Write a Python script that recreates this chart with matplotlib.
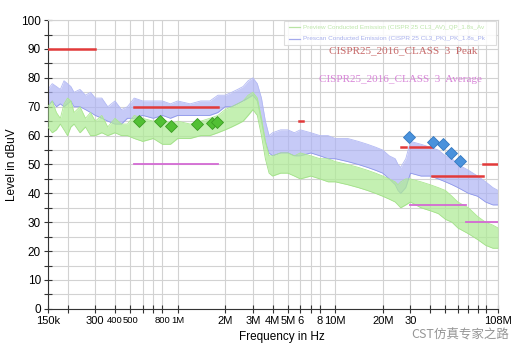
import matplotlib
matplotlib.use("Agg")
import matplotlib.pyplot as plt
import matplotlib.transforms as mtransforms
import numpy as np
from matplotlib.patches import Rectangle

plt.rcParams['font.family'] = ['Liberation Sans', 'DejaVu Sans']

# --- data (frequency in MHz, level in dBuV) ---
freq = [0.15, 0.16, 0.17, 0.18, 0.19, 0.20, 0.21, 0.22, 0.24, 0.26, 0.28, 0.30,
        0.33, 0.36, 0.40, 0.44, 0.48, 0.53, 0.6, 0.7, 0.8, 0.9, 1.0, 1.2, 1.4,
        1.6, 1.8, 2.0, 2.2, 2.4, 2.6, 2.8, 3.0, 3.2, 3.4, 3.6, 3.8, 4.0, 4.5,
        5.0, 5.5, 6.0, 7, 8, 9, 10, 12, 14, 16, 18, 20, 22, 24, 25, 26, 28, 30,
        35, 40, 45, 50, 55, 60, 70, 80, 90, 100, 108]

peak_hi = [76, 78, 77, 76, 79, 78, 77, 75, 76, 74, 75, 73,
           73, 70, 72, 69, 70, 73, 72, 72, 72, 71, 72, 71, 72,
           72, 74, 74, 75, 76, 77, 79, 80, 78, 73, 65, 60, 61, 62,
           62, 61, 62, 61, 60, 60, 59, 59, 58, 57, 56, 55, 53, 52, 50, 49, 52, 58,
           57, 56, 55, 53, 52, 50, 48, 46, 44, 42, 41]
peak_lo = [70, 72, 70, 71, 70, 71, 72, 70, 70, 69, 68, 67,
           66, 65, 64, 64, 66, 66, 67, 66, 67, 66, 67, 67, 67,
           67, 68, 70, 70, 71, 72, 73, 74, 72, 65, 58, 54, 53, 54,
           54, 53, 53, 54, 53, 52, 52, 51, 50, 49, 48, 47, 45, 43, 41, 40, 42, 47,
           46, 46, 45, 44, 43, 42, 40, 39, 37, 36, 36]

avg_hi = [70, 72, 68, 66, 71, 73, 72, 68, 70, 66, 68, 65,
          67, 63, 66, 64, 64, 67, 66, 65, 66, 64, 65, 64, 65,
          66, 67, 69, 70, 71, 72, 74, 75, 73, 66, 58, 53, 53, 54,
          54, 53, 54, 53, 52, 52, 51, 50, 49, 48, 47, 46, 45, 44, 43, 44, 45, 45,
          44, 43, 42, 41, 39, 37, 35, 32, 30, 29, 28]
avg_lo = [63, 61, 62, 64, 62, 60, 63, 64, 61, 63, 60, 60,
          61, 60, 61, 60, 60, 59, 58, 59, 57, 57, 59, 59, 60,
          60, 61, 62, 63, 64, 65, 67, 69, 67, 60, 52, 47, 46, 47,
          47, 46, 45, 46, 45, 44, 44, 43, 42, 41, 40, 39, 38, 37, 36, 35, 36, 37,
          35, 34, 33, 31, 30, 28, 26, 24, 22, 21, 21]

# CISPR 25 class 3 limit segments (start MHz, stop MHz, level)
peak_limits = [(0.15, 0.30, 90), (0.53, 1.8, 70), (5.9, 6.2, 65),
               (26, 28, 56), (30, 41, 56), (41, 87, 46), (87, 108, 50)]
avg_limits = [(0.53, 1.8, 50), (30, 68, 36), (68, 108, 30)]

# final measurement markers
avg_mark_f = [0.566, 0.767, 0.905, 1.33, 1.64, 1.78]
avg_mark_v = [65.2, 65.0, 63.4, 64.0, 64.4, 64.8]
peak_mark_f = [29.5, 41.5, 48, 54.5, 62]
peak_mark_v = [59.5, 57.7, 57.1, 54.0, 51.3]

tick_f = [0.15, 0.2, 0.3, 0.4, 0.5, 0.6, 0.7, 0.8, 1, 2, 3, 4, 5, 6, 7, 8, 10,
          20, 30, 40, 50, 60, 70, 80, 90, 108]
tick_lab = ['150k', '', '300', '400', '500', '', '', '800', '1M', '2M', '3M',
            '4M', '5M', '6', '', '8', '10M', '20M', '30', '', '', '', '', '',
            '', '108M']
# crowded labels: shrink and nudge (pixels)
crowded = {'400': -2.5, '500': 2.5, '800': -2.5, '1M': 2.5}

fig = plt.figure(figsize=(5.2, 3.53), dpi=100)
ax = fig.add_axes([0.092, 0.125, 0.866, 0.818])

ax.fill_between(freq, peak_lo, peak_hi, color='#aeb4f4', alpha=0.7, lw=0, zorder=2)
ax.plot(freq, peak_hi, color='#b4baf4', lw=0.6, zorder=2)
ax.plot(freq, peak_lo, color='#8e97ea', lw=0.6, zorder=2)
ax.fill_between(freq, avg_lo, avg_hi, color='#b0eb98', lw=0, alpha=0.75, zorder=3)
ax.plot(freq, avg_hi, color='#ace890', lw=0.6, zorder=3)
ax.plot(freq, avg_lo, color='#a2e088', lw=0.6, zorder=3)

for f0, f1, v in peak_limits:
    ax.plot([f0, f1], [v, v], color='#e23a3a', lw=1.8, zorder=4)
for f0, f1, v in avg_limits:
    ax.plot([f0, f1], [v, v], color='#d46ad4', lw=1.3, zorder=4)

ax.plot(avg_mark_f, avg_mark_v, 'D', ms=6.5, color='#52c034', mec='#3a9a22',
        mew=0.6, ls='none', zorder=5)
ax.plot(peak_mark_f, peak_mark_v, 'D', ms=6.5, color='#4a92dc', mec='#3478c0',
        mew=0.6, ls='none', zorder=5)

ax.set_xscale('log')
ax.set_xlim(0.15, 108)
ax.set_ylim(0, 100)
ax.set_xticks(tick_f)
ax.set_xticklabels(tick_lab, fontsize=8)
ax.minorticks_off()
for lab in ax.get_xticklabels():
    dx = crowded.get(lab.get_text())
    if dx is not None:
        lab.set_fontsize(6.8)
        lab.set_transform(lab.get_transform() +
                          mtransforms.ScaledTranslation(dx / 100, 0, fig.dpi_scale_trans))
ax.set_yticks(range(0, 101, 10))
ax.set_yticks(range(5, 100, 10), minor=True)
ax.tick_params(axis='y', labelsize=8.5)
ax.tick_params(which='both', direction='inout', length=6, width=0.8,
               color='#333333', pad=2)
ax.grid(True, which='both', color='#d2d2d2', lw=0.8, zorder=0)
ax.set_axisbelow(True)
for s in ['top', 'right']:
    ax.spines[s].set_color('#d2d2d2')
for s in ['left', 'bottom']:
    ax.spines[s].set_color('#333333')

ax.set_xlabel('Frequency in Hz', fontsize=8.5, labelpad=4, x=0.52)
ax.set_ylabel('Level in dBuV', fontsize=8.5, labelpad=2)

# legend box in the upper right
ax.add_patch(Rectangle((0.525, 0.915), 0.47, 0.082, transform=ax.transAxes,
                       fc='white', ec='#d8d8d8', lw=0.8, alpha=0.85, zorder=6))
ax.plot([0.535, 0.56], [0.975, 0.975], transform=ax.transAxes,
        color='#b8e4a4', lw=0.9, zorder=7)
ax.plot([0.535, 0.56], [0.935, 0.935], transform=ax.transAxes,
        color='#a4aaec', lw=0.9, zorder=7)
ax.text(0.567, 0.975, 'Preview Conducted Emission (CISPR 25 CL3_AV)_QP_1.8s_Av',
        transform=ax.transAxes, fontsize=4.6, color='#bde6aa', va='center', zorder=7)
ax.text(0.567, 0.935, 'Prescan Conducted Emission (CISPR 25 CL3_PK)_PK_1.8s_Pk',
        transform=ax.transAxes, fontsize=4.6, color='#a8b0ec', va='center', zorder=7)

ax.text(0.79, 0.893, 'CISPR25_2016_CLASS  3  Peak', transform=ax.transAxes,
        fontsize=8, color='#c86a6a', family='Liberation Serif', ha='center',
        va='center', zorder=7)
ax.text(0.782, 0.796, 'CISPR25_2016_CLASS  3  Average', transform=ax.transAxes,
        fontsize=8, color='#d884d8', family='Liberation Serif', ha='center',
        va='center', zorder=7)

# watermark
fig.text(0.885, 0.05, 'CST仿真专家之路', fontsize=9, color='#8a8a8a',
         family=['Noto Sans CJK SC', 'DejaVu Sans'], ha='center', va='center',
         alpha=0.9)

fig.savefig('out.png', dpi=100, facecolor='white')
